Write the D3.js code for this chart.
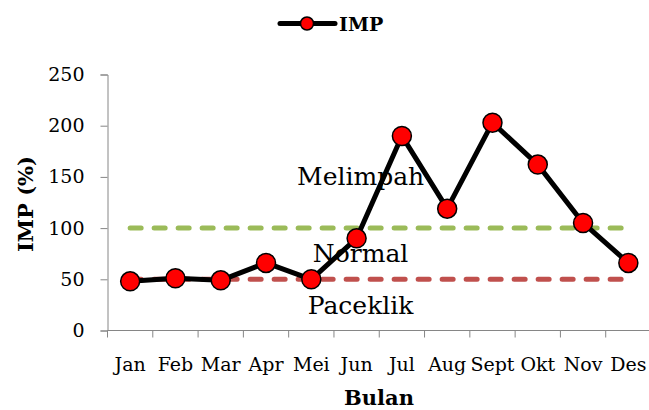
<!DOCTYPE html>
<html>
<head>
<meta charset="utf-8">
<script src="https://cdn.jsdelivr.net/npm/d3@7"></script>
<style>
  body { margin: 0; background: #fff; }
  text { font-family: "DejaVu Serif", serif; fill: #000; }
</style>
</head>
<body>
<div id="chart"></div>
<script>
// data
const months = ["Jan", "Feb", "Mar", "Apr", "Mei", "Jun", "Jul", "Aug", "Sept", "Okt", "Nov", "Des"]
const imp = [48, 51, 49, 66, 50, 90, 190, 119, 203, 162, 105, 66]
const yTicks = [0, 50, 100, 150, 200, 250]
const thresholds = [100, 50]
const thresholdColors = ["#9bbb59", "#c0504d"]
const zoneLabels = ["Melimpah", "Normal", "Paceklik"]
const zoneValues = [142, 67, 16]

const width = 649
const height = 410

const svg = d3.select('#chart')
    .append('svg')
    .attr('width', width)
    .attr('height', height)

const xScale = d3.scaleBand()
    .domain(months)
    .range([107.5, 651])

const yScale = d3.scaleLinear()
    .domain([0, 250])
    .range([330.5, 74.5])

const cx = d => xScale(d) + xScale.bandwidth() / 2

// axes
const yAxis = svg.append('g')
    .attr('transform', 'translate(107.5,0)')
    .call(d3.axisLeft(yScale).tickValues(yTicks).tickSize(7).tickPadding(16))
yAxis.select('.domain').attr('stroke', '#868686')
yAxis.selectAll('.tick line').attr('stroke', '#868686')
yAxis.selectAll('text').attr('font-size', 19).attr('fill', '#000')

const xAxis = svg.append('g')
    .attr('transform', 'translate(0,330.5)')
    .call(d3.axisBottom(xScale).tickSize(0).tickPadding(0))
xAxis.select('.domain').attr('stroke', '#868686').attr('d', 'M107.5,0H649')
xAxis.selectAll('text').attr('font-size', 19).attr('fill', '#000').attr('dy', null).attr('y', 40)

// tick marks between categories
xAxis.selectAll('.sep')
    .data(months)
    .join('line')
    .attr('class', 'sep')
    .attr('x1', d => xScale(d))
    .attr('x2', d => xScale(d))
    .attr('y1', 0)
    .attr('y2', 7)
    .attr('stroke', '#868686')

// axis titles
svg.append('text')
    .attr('x', 379)
    .attr('y', 405)
    .attr('text-anchor', 'middle')
    .attr('font-size', 21)
    .attr('font-weight', 'bold')
    .text('Bulan')

svg.append('text')
    .attr('transform', 'translate(33,204) rotate(-90)')
    .attr('text-anchor', 'middle')
    .attr('font-size', 21)
    .attr('font-weight', 'bold')
    .text('IMP (%)')

// threshold dashed lines
thresholds.forEach((t, i) => {
    svg.append('path')
        .datum(months.map(m => [m, t]))
        .attr('d', d3.line().x(d => cx(d[0])).y(d => yScale(d[1])))
        .attr('fill', 'none')
        .attr('stroke', thresholdColors[i])
        .attr('stroke-width', 5)
        .attr('stroke-linecap', 'round')
        .attr('stroke-dasharray', '11,13')
})

// zone labels
svg.selectAll('.zone')
    .data(zoneLabels)
    .join('text')
    .attr('class', 'zone')
    .attr('x', cx('Jun') + 4)
    .attr('y', (d, i) => yScale(zoneValues[i]))
    .attr('text-anchor', 'middle')
    .attr('font-size', 25)
    .text(d => d)

// the IMP series
const lineGenerator = d3.line()
    .x((d, i) => cx(months[i]))
    .y(d => yScale(d))

svg.append('path')
    .datum(imp)
    .attr('d', lineGenerator)
    .attr('fill', 'none')
    .attr('stroke', '#000')
    .attr('stroke-width', 5)
    .attr('stroke-linejoin', 'round')

svg.selectAll('.pt')
    .data(imp)
    .join('circle')
    .attr('class', 'pt')
    .attr('cx', (d, i) => cx(months[i]))
    .attr('cy', d => yScale(d))
    .attr('r', 9.5)
    .attr('fill', '#ff0000')
    .attr('stroke', '#000')
    .attr('stroke-width', 1.5)

// legend
const legend = svg.append('g').attr('transform', 'translate(280,23.5)')
legend.append('line')
    .attr('x1', 0).attr('x2', 55)
    .attr('stroke', '#000')
    .attr('stroke-width', 5)
    .attr('stroke-linecap', 'round')
legend.append('circle')
    .attr('cx', 27).attr('r', 6.5)
    .attr('fill', '#ff0000')
    .attr('stroke', '#000')
    .attr('stroke-width', 1.5)
legend.append('text')
    .attr('x', 59).attr('y', 7)
    .attr('font-size', 19)
    .attr('font-weight', 'bold')
    .text('IMP')
</script>
</body>
</html>
